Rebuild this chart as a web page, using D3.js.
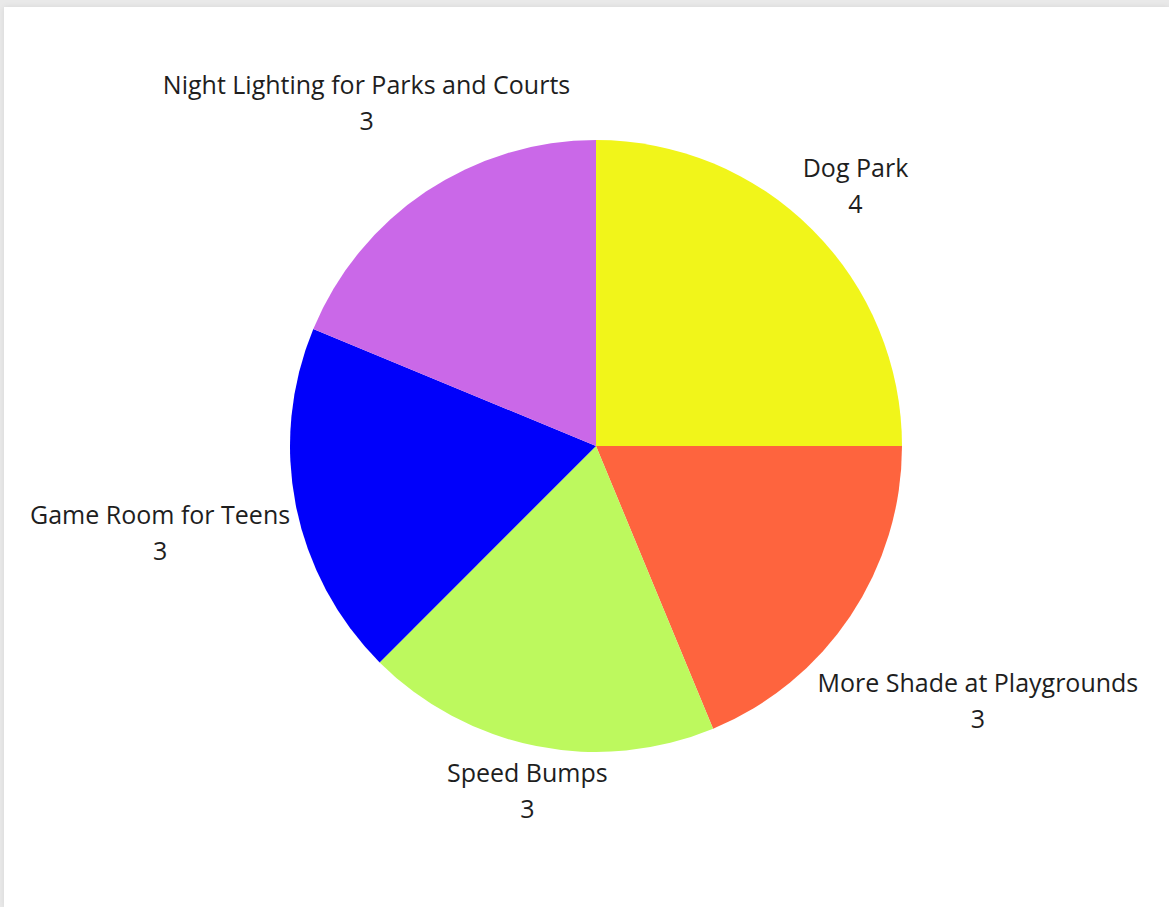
<!DOCTYPE html>
<html>
<head>
<meta charset="utf-8">
<script src="https://cdn.jsdelivr.net/npm/d3@7"></script>
<style>
  html, body { margin: 0; padding: 0; }
  body { width: 1169px; height: 907px; background: #e9e9e9; overflow: hidden; position: relative; }
  #chart { position: absolute; left: 4px; top: 7px; width: 1165px; height: 900px; background: #fff;
           box-shadow: 0 0 6px rgba(0,0,0,0.08); }
  text { font-family: "Open Sans", sans-serif; }
</style>
</head>
<body>
<div id="chart"></div>
<script>
/* DATA */
const categories = ["Dog Park", "More Shade at Playgrounds", "Speed Bumps", "Game Room for Teens", "Night Lighting for Parks and Courts"];
const values = [4, 3, 3, 3, 3];
const colors = ["#f1f51a", "#fe643e", "#bdf95e", "#0000fb", "#ca68e8"];

/* CONSTANTS */
const width = 1165;
const height = 900;
const cx = 592, cy = 439;
const radius = 306;
const labelBase = 312;
const fontSize = 25;
const lineGap = 36;

const data = categories.map((c, i) => ({ name: c, value: values[i], color: colors[i] }));

const svg = d3.select("#chart")
  .append("svg")
  .attr("width", width)
  .attr("height", height);

const pie = d3.pie().sort(null).value(d => d.value);
const arc = d3.arc().innerRadius(0).outerRadius(radius);
const arcs = pie(data);

const g = svg.append("g").attr("transform", `translate(${cx},${cy})`);

g.selectAll("path")
  .data(arcs)
  .join("path")
  .attr("d", arc)
  .attr("fill", d => d.data.color);

// labels: two lines, pushed out along the slice's middle angle
const labels = g.selectAll("g.lbl")
  .data(arcs)
  .join("g")
  .attr("class", "lbl");

labels.append("text")
  .attr("class", "name")
  .attr("text-anchor", "middle")
  .attr("font-size", fontSize)
  .attr("fill", "#1e1e1e")
  .text(d => d.data.name);

labels.append("text")
  .attr("class", "val")
  .attr("text-anchor", "middle")
  .attr("font-size", fontSize)
  .attr("fill", "#1e1e1e")
  .attr("dy", lineGap)
  .text(d => d.data.value);

labels.each(function (d) {
  const sel = d3.select(this);
  const w = sel.select("text.name").node().getComputedTextLength();
  const hw = w / 2, hh = 25;
  const mid = (d.startAngle + d.endAngle) / 2;
  const ux = Math.sin(mid), uy = -Math.cos(mid);
  // push out by the box extent, but keep wide labels from drifting too far vertically
  const extra = Math.min(hw * Math.abs(ux) + hh * Math.abs(uy), 84 / Math.max(Math.abs(uy), 1e-6));
  const off = labelBase + extra;
  const bx = ux * off, by = uy * off;
  // box center -> first baseline
  sel.attr("transform", `translate(${bx},${by - 9})`);
});
</script>
</body>
</html>
